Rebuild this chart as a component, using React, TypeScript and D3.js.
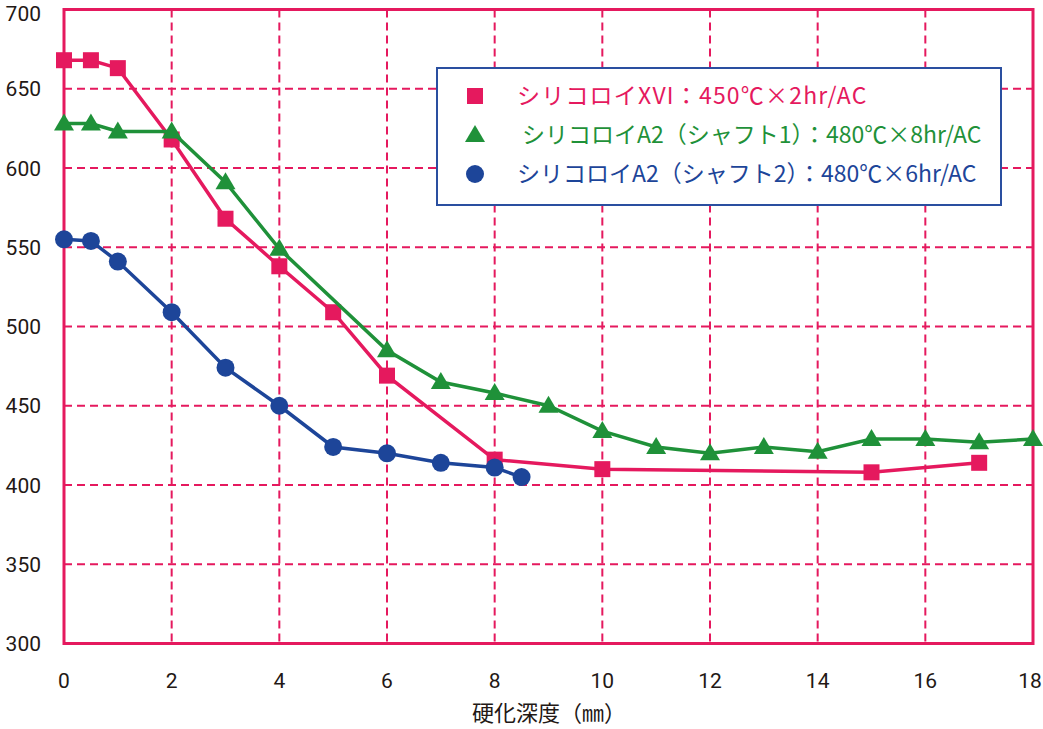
import * as d3 from "d3"
import React from "react"

// series data
const xviX = [0, 0.5, 1, 2, 3, 4, 5, 6, 8, 10, 15, 17]
const xviY = [668, 668, 663, 618, 568, 538, 509, 469, 416, 410, 408, 414]

const a2s1X = [0, 0.5, 1, 2, 3, 4, 6, 7, 8, 9, 10, 11, 12, 13, 14, 15, 16, 17, 18]
const a2s1Y = [628, 628, 623, 623, 591, 549, 485, 465, 458, 450, 434, 424, 420, 424, 421, 429, 429, 427, 429]

const a2s2X = [0, 0.5, 1, 2, 3, 4, 5, 6, 7, 8, 8.5]
const a2s2Y = [555, 554, 541, 509, 474, 450, 424, 420, 414, 411, 405]

const xTicks = [0, 2, 4, 6, 8, 10, 12, 14, 16, 18]
const yTicks = [300, 350, 400, 450, 500, 550, 600, 650, 700]

const legendLabels = [
  "シリコロイXVI：450℃×2hr/AC",
  "シリコロイA2（シャフト1）：480℃×8hr/AC",
  "シリコロイA2（シャフト2）：480℃×6hr/AC",
]

const PINK = "#e5195e"
const GREEN = "#1f9139"
const BLUE = "#1d4599"
const TEXT = "#231815"
const FONT = "'Noto Sans CJK JP', 'Noto Sans', sans-serif"
const NUM_FONT = "Roboto, 'Open Sans', sans-serif"

const width = 1043
const height = 729
const margin = { top: 9.5, right: 10, bottom: 85.5, left: 64 }

const App = () => {
  const x = d3.scaleLinear().domain([0, 18]).range([margin.left, width - margin.right])
  const y = d3.scaleLinear().domain([300, 700]).range([height - margin.bottom, margin.top])

  const line = d3.line<[number, number]>()
    .x(d => x(d[0]))
    .y(d => y(d[1]))

  const zip = (xs: number[], ys: number[]) => xs.map((v, i) => [v, ys[i]] as [number, number])
  const series = [
    { pts: zip(xviX, xviY), color: PINK, shape: "square" },
    { pts: zip(a2s1X, a2s1Y), color: GREEN, shape: "triangle" },
    { pts: zip(a2s2X, a2s2Y), color: BLUE, shape: "circle" },
  ]

  const marker = (shape: string, cx: number, cy: number, color: string, key: any) => {
    if (shape === "square") return <rect key={key} x={cx - 8} y={cy - 8} width={16} height={16} fill={color} />
    if (shape === "triangle") return <path key={key} d={`M${cx},${cy - 10}L${cx + 10},${cy + 7}L${cx - 10},${cy + 7}Z`} fill={color} />
    return <circle key={key} cx={cx} cy={cy} r={9} fill={color} />
  }

  const [x0, x1] = x.range()
  const [y0, y1] = y.range()

  const legend = { x: 437, y: 68, w: 564, h: 137 }
  const legendRows = [96, 135, 174]
  const legendText = [517, 522, 517]
  const legendSpacing = [1.2, 0, 0]

  return (
    <svg width={width} height={height} style={{ position: "absolute", left: 0, top: 0, background: "#fff" }}
      fontFamily={FONT}>
      {/* grid */}
      <g stroke={PINK} strokeWidth={2} strokeDasharray="8,5">
        {xTicks.slice(1, -1).map(t => <line key={"gx" + t} x1={x(t)} x2={x(t)} y1={y1} y2={y0} />)}
        {yTicks.slice(1, -1).map(t => <line key={"gy" + t} x1={x0} x2={x1} y1={y(t)} y2={y(t)} />)}
      </g>
      <rect x={x0} y={y1} width={x1 - x0} height={y0 - y1} fill="none" stroke={PINK} strokeWidth={3} />

      {/* axis labels */}
      <g fill={TEXT} fontSize={21} fontFamily={NUM_FONT}>
        {yTicks.map(t => <text key={"ty" + t} x={41} y={Math.max(y(t), 13)} dy="0.36em" textAnchor="end">{t}</text>)}
        {xTicks.map(t => <text key={"tx" + t} x={Math.min(x(t), 1030)} y={688} textAnchor="middle">{t}</text>)}
      </g>
      <text x={549} y={721} textAnchor="middle" fontSize={22} fill={TEXT}>硬化深度（㎜）</text>

      {/* lines & markers */}
      {series.map((s, i) => (
        <g key={"s" + i}>
          <path d={line(s.pts) || ""} fill="none" stroke={s.color} strokeWidth={3.5} />
          {s.pts.map((p, j) => marker(s.shape, x(p[0]), y(p[1]), s.color, j))}
        </g>
      ))}

      {/* legend */}
      <rect x={legend.x} y={legend.y} width={legend.w} height={legend.h} fill="#fff" stroke="#2a4fa0" strokeWidth={2} />
      {series.map((s, i) => (
        <g key={"l" + i}>
          {marker(s.shape, 475, legendRows[i], s.color, "m")}
          <text x={legendText[i]} y={legendRows[i]} dy="0.36em" fill={s.color} fontSize={23}
            letterSpacing={legendSpacing[i]}>{legendLabels[i]}</text>
        </g>
      ))}
    </svg>
  )
}

export default App
